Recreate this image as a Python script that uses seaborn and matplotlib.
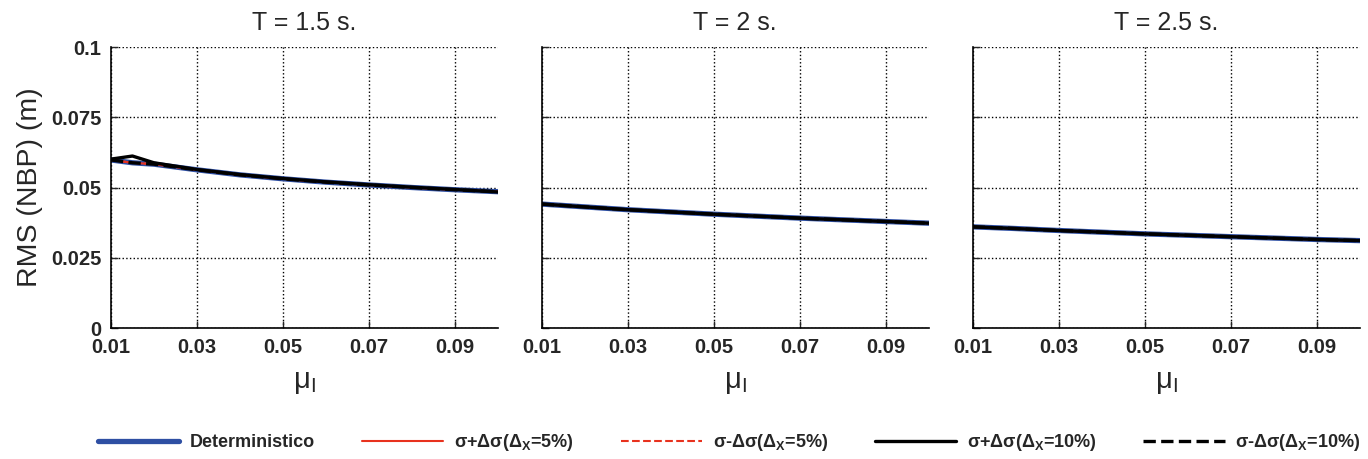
import numpy as np
import pandas as pd
import matplotlib
matplotlib.use('Agg')
import matplotlib.pyplot as plt
import seaborn as sns

sns.set_style('ticks')
plt.rcParams['font.family'] = ['Liberation Sans', 'DejaVu Sans']
plt.rcParams['mathtext.fontset'] = 'custom'
plt.rcParams['mathtext.rm'] = 'Liberation Sans'
plt.rcParams['mathtext.it'] = 'Liberation Sans:italic'
plt.rcParams['mathtext.bf'] = 'Liberation Sans:bold'

# data
mu = [0.01, 0.015, 0.02, 0.03, 0.04, 0.05, 0.06, 0.07, 0.08, 0.09, 0.1]
periods = ['T = 1.5 s.', 'T = 2 s.', 'T = 2.5 s.']

det_15 = [0.0598, 0.0588, 0.0583, 0.0563, 0.0545, 0.0531, 0.0519, 0.0509, 0.0500, 0.0492, 0.0485]
plus10_15 = [0.0601, 0.0612, 0.0588, 0.0564, 0.0546, 0.0532, 0.0520, 0.0510, 0.0501, 0.0493, 0.0484]
det_20 = [0.0441, 0.0436, 0.0431, 0.0421, 0.0413, 0.0405, 0.0398, 0.0391, 0.0385, 0.0379, 0.0373]
det_25 = [0.0360, 0.0357, 0.0354, 0.0347, 0.0341, 0.0335, 0.0330, 0.0325, 0.0320, 0.0315, 0.0311]

dets = [det_15, det_20, det_25]
plus10 = [plus10_15, det_20, det_25]

labels = ['Deterministico', 'σ+Δσ(Δ$_{\\mathbf{X}}$=5%)', 'σ-Δσ(Δ$_{\\mathbf{X}}$=5%)',
          'σ+Δσ(Δ$_{\\mathbf{X}}$=10%)', 'σ-Δσ(Δ$_{\\mathbf{X}}$=10%)']
colors = ['#2e4fa3', '#e8321e', '#e8321e', 'black', 'black']
styles = ['-', '-', '--', '-', '--']
widths = [3.8, 1.5, 1.5, 2.4, 2.4]

fig = plt.figure(figsize=(13.68, 4.59), dpi=100)
lefts = [0.0811, 0.396, 0.711]
axes = []
for i in range(3):
    ax = fig.add_axes([lefts[i], 0.2854, 0.283, 0.6122])
    series = [dets[i], dets[i], dets[i], plus10[i], dets[i]]
    for k in range(5):
        df = pd.DataFrame({'mu': mu, 'rms': series[k]})
        sns.lineplot(data=df, x='mu', y='rms', ax=ax, color=colors[k],
                     linestyle=styles[k], linewidth=widths[k], label=labels[k],
                     legend=False)
    ax.set_xlim(0.01, 0.1)
    ax.set_ylim(0, 0.1)
    ax.set_xticks([0.01, 0.03, 0.05, 0.07, 0.09])
    ax.set_xticklabels(['0.01', '0.03', '0.05', '0.07', '0.09'])
    ax.set_yticks([0, 0.025, 0.05, 0.075, 0.1])
    ax.set_yticklabels(['0', '0.025', '0.05', '0.075', '0.1'] if i == 0 else [])
    ax.grid(True, color='black', linestyle=':', linewidth=1.0)
    ax.tick_params(direction='in', length=5, width=1, labelsize=14.5, pad=7)
    for t in ax.get_xticklabels() + ax.get_yticklabels():
        t.set_fontweight('bold')
    for s in ['top', 'right']:
        ax.spines[s].set_visible(False)
    for s in ['left', 'bottom']:
        ax.spines[s].set_linewidth(1.2)
        ax.spines[s].set_color('black')
    ax.set_title(periods[i], fontsize=18, pad=12)
    ax.set_xlabel('μ$_{\\mathrm{I}}$', fontsize=21, labelpad=8)
    ax.set_ylabel('RMS (NBP) (m)' if i == 0 else '', fontsize=20.5, labelpad=6)
    axes.append(ax)

handles, labs = axes[0].get_legend_handles_labels()
fig.legend(handles, labs, loc='center', bbox_to_anchor=(0.533, 0.035), ncol=5,
           frameon=False, handlelength=4.5, handletextpad=0.6, columnspacing=2.6,
           prop={'size': 13, 'weight': 'bold'})

fig.savefig('out.png', dpi=100, facecolor='white')
